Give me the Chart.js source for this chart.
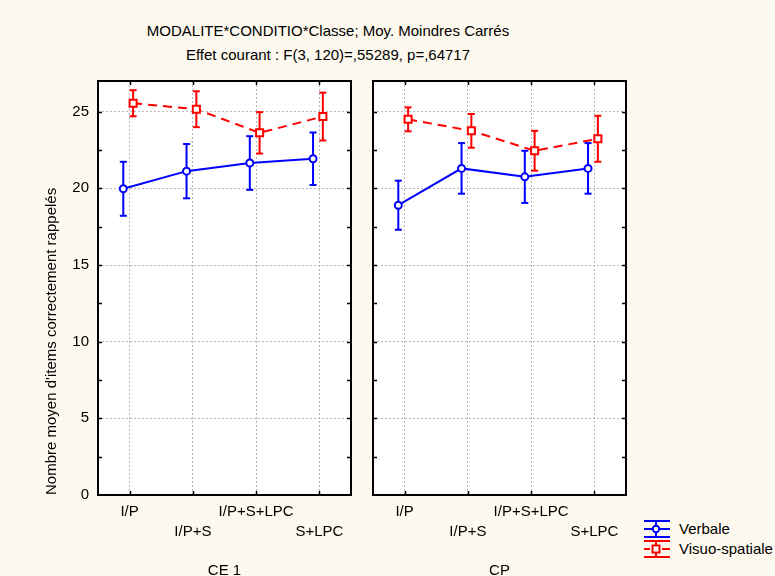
<!DOCTYPE html>
<html><head><meta charset="utf-8">
<script src="https://cdn.jsdelivr.net/npm/chart.js@4.4.0/dist/chart.umd.min.js"></script>
<style>
html,body{margin:0;padding:0;background:#fdf9ee;overflow:hidden;width:775px;height:576px;}
body{position:relative;font-family:"Liberation Sans",Arial,sans-serif;color:#000;}
.t{position:absolute;left:0;width:656px;text-align:center;font-size:15px;line-height:18px;white-space:nowrap;}
#c1{position:absolute;left:0;top:0;}
#c2{position:absolute;left:362px;top:0;}
.leg{position:absolute;left:644px;height:18px;font-size:15px;line-height:18px;white-space:nowrap;}
.leg svg{vertical-align:top;margin-right:9px;}
</style></head>
<body>
<div class="t" style="top:22px">MODALITE*CONDITIO*Classe; Moy. Moindres Carrés</div>
<div class="t" style="top:46px">Effet courant : F(3, 120)=,55289, p=,64717</div>
<canvas id="c1" width="362" height="590"></canvas>
<canvas id="c2" width="275" height="590"></canvas>
<div class="leg" style="top:520px"><svg width="26" height="18"><g stroke="#0000ff" stroke-width="2" fill="none"><line x1="0" y1="1" x2="26" y2="1"/><line x1="0" y1="17" x2="26" y2="17"/><line x1="12" y1="1" x2="12" y2="17"/><line x1="0" y1="9" x2="26" y2="9"/><circle cx="12" cy="9" r="3.2" fill="#fff"/></g></svg>Verbale</div>
<div class="leg" style="top:540px"><svg width="26" height="18"><g stroke="#ff0000" stroke-width="2" fill="none"><line x1="0" y1="1" x2="26" y2="1"/><line x1="0" y1="17" x2="26" y2="17"/><line x1="12" y1="1" x2="12" y2="17"/><line x1="0" y1="9" x2="6" y2="9"/><line x1="18" y1="9" x2="26" y2="9"/><rect x="8.5" y="5.5" width="7" height="7" fill="#fff"/></g></svg>Visuo-spatiale</div>
<script>
// ---- data ----
const categories = ['I/P', 'I/P+S', 'I/P+S+LPC', 'S+LPC'];
const seriesNames = ['Verbale', 'Visuo-spatiale'];
const panelNames = ['CE 1', 'CP'];
const yAxisTitle = "Nombre moyen d'items correctement rappelés";

const ce1Verbale    = [19.97, 21.12, 21.65, 21.93];
const ce1VerbaleErr = [1.76, 1.77, 1.75, 1.71];
const ce1Visuo      = [25.55, 25.16, 23.62, 24.68];
const ce1VisuoErr   = [0.85, 1.17, 1.35, 1.56];

const cpVerbale     = [18.90, 21.30, 20.75, 21.30];
const cpVerbaleErr  = [1.60, 1.65, 1.70, 1.65];
const cpVisuo       = [24.50, 23.75, 22.45, 23.23];
const cpVisuoErr    = [0.78, 1.10, 1.30, 1.50];

// ---- styling / layout ----
const FONT = "'Liberation Sans', Arial, sans-serif";
const BLUE = '#0000ff', RED = '#ff0000', GRID = '#b8b8b8';
const OFF_V = -0.1, OFF_S = 0.055;   // horizontal jitter of the two series

function pts(means, off) { return means.map((m, i) => ({x: i + off, y: m})); }
function errPts(means, errs, off) {
  const out = [];
  means.forEach((m, i) => { out.push({x: i + off, y: m - errs[i]}, {x: i + off, y: m + errs[i]}, {x: i + off, y: null}); });
  return out;
}

const framePlugin = {
  id: 'frame',
  beforeDraw(chart) {
    const {ctx, chartArea: a} = chart;
    ctx.save(); ctx.fillStyle = '#ffffff';
    ctx.fillRect(a.left, a.top, a.right - a.left, a.bottom - a.top);
    ctx.restore();
  },
  afterDatasetsDraw(chart) {
    const {ctx, chartArea: a, scales: {x, y}} = chart;
    ctx.save();
    ctx.strokeStyle = '#000'; ctx.lineWidth = 2;
    ctx.strokeRect(a.left, a.top, a.right - a.left, a.bottom - a.top);
    ctx.lineWidth = 1.5; ctx.beginPath();
    for (let v = 2.5; v < y.max; v += 2.5) {
      const py = Math.round(y.getPixelForValue(v)) + 0.5;
      ctx.moveTo(a.left, py); ctx.lineTo(a.left + 4, py);
      ctx.moveTo(a.right, py); ctx.lineTo(a.right - 4, py);
    }
    categories.forEach((c, i) => {
      const px = Math.round(x.getPixelForValue(i)) + 0.5;
      ctx.moveTo(px, a.top); ctx.lineTo(px, a.top + 4);
      ctx.moveTo(px, a.bottom); ctx.lineTo(px, a.bottom - 4);
    });
    ctx.stroke(); ctx.restore();
  }
};

function makePanel(id, verb, verbErr, vis, visErr, xTitle, showY, rightPad) {
  return new Chart(document.getElementById(id), {
    type: 'scatter',
    data: {
      datasets: [
        {label: seriesNames[0], data: pts(verb, OFF_V), showLine: true, borderColor: BLUE, borderWidth: 2,
         pointStyle: 'circle', pointRadius: 3.5, pointBorderWidth: 2, pointBackgroundColor: '#fff', pointBorderColor: BLUE, order: 0},
        {label: seriesNames[1], data: pts(vis, OFF_S), showLine: true, borderColor: RED, borderWidth: 2, borderDash: [9, 6],
         pointStyle: 'rect', pointRadius: 5, pointBorderWidth: 2, pointBackgroundColor: '#fff', pointBorderColor: RED, order: 0},
        {label: 'errV', data: errPts(verb, verbErr, OFF_V), showLine: true, spanGaps: false, borderColor: BLUE, borderWidth: 2,
         pointStyle: 'line', pointRadius: 3.5, pointBorderWidth: 2, pointBorderColor: BLUE, order: 1},
        {label: 'errS', data: errPts(vis, visErr, OFF_S), showLine: true, spanGaps: false, borderColor: RED, borderWidth: 2,
         pointStyle: 'line', pointRadius: 3.5, pointBorderWidth: 2, pointBorderColor: RED, order: 1}
      ]
    },
    options: {
      responsive: false, animation: false, devicePixelRatio: 1,
      layout: {padding: {top: 81, right: rightPad, left: 0, bottom: 0}},
      plugins: {legend: {display: false}, tooltip: {enabled: false}},
      scales: {
        x: {
          type: 'linear', min: -0.5, max: 3.5,
          afterBuildTicks: s => { s.ticks = categories.map((c, i) => ({value: i})); },
          afterFit: s => { s.height = 95; },
          ticks: {
            autoSkip: false, maxRotation: 0, padding: 7, color: '#000',
            font: {family: FONT, size: 15, lineHeight: 1.34},
            callback: (v, i) => (i % 2 === 0 ? categories[i] : ['', categories[i]])
          },
          grid: {color: GRID, lineWidth: 1, drawTicks: false},
          border: {display: false, dash: [2, 2]},
          title: {display: true, text: xTitle, color: '#000', font: {family: FONT, size: 15}, padding: {top: 0, bottom: 10}}
        },
        y: {
          min: 0, max: 27,
          afterFit: s => { s.width = showY ? 98 : 11; },
          ticks: {display: showY, stepSize: 5, includeBounds: false, padding: 9, color: '#000', font: {family: FONT, size: 15}},
          grid: {color: GRID, lineWidth: 1, drawTicks: false},
          border: {display: false, dash: [2, 2]},
          title: {display: showY, text: yAxisTitle, align: 'start', color: '#000', font: {family: FONT, size: 15}, padding: {top: 43, bottom: 0}}
        }
      }
    },
    plugins: [framePlugin]
  });
}

makePanel('c1', ce1Verbale, ce1VerbaleErr, ce1Visuo, ce1VisuoErr, panelNames[0], true, 11);
makePanel('c2', cpVerbale, cpVerbaleErr, cpVisuo, cpVisuoErr, panelNames[1], false, 11);
</script>
</body></html>
